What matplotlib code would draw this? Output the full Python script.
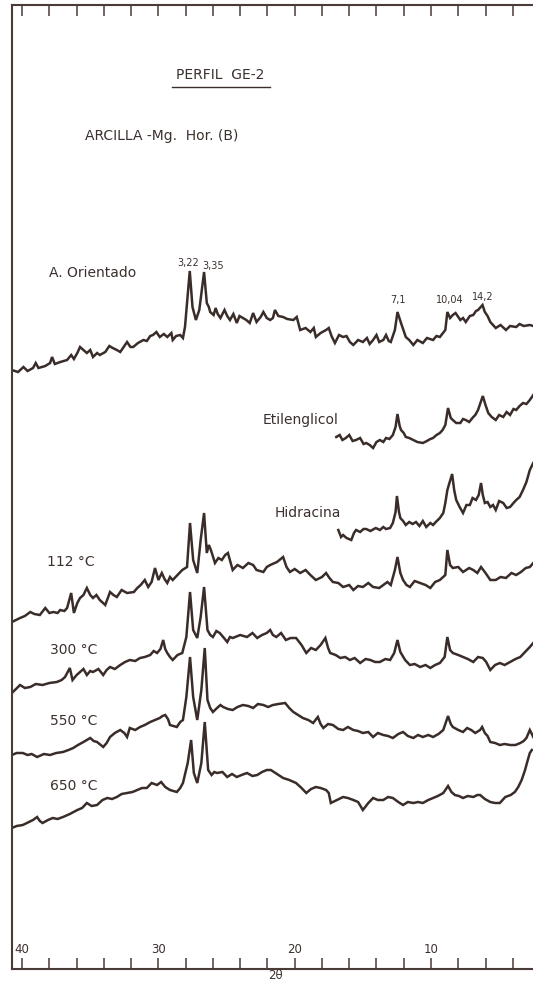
import matplotlib
matplotlib.use("Agg")
import matplotlib.pyplot as plt
from matplotlib.ticker import FixedLocator

# ---- diffractogram data (2θ in degrees, intensity in arbitrary units) ----
ori_2t = [40.75, 40.3, 39.9, 39.6, 39.2, 39.0, 38.8, 38.3, 37.95, 37.8, 37.6, 37.2, 36.7,
          36.4, 36.2, 35.95, 35.75, 35.5, 35.25, 35.0, 34.8, 34.5, 34.3, 33.9, 33.6, 33.35,
          33.05, 32.8, 32.55, 32.3, 32.05, 31.85, 31.5, 31.1, 30.85, 30.6, 30.4, 30.15, 29.9,
          29.6, 29.35, 29.05, 28.95, 28.7, 28.4, 28.2, 28.05, 27.7, 27.5, 27.25, 27.0, 26.65,
          26.45, 26.3, 26.2, 25.95, 25.8, 25.65, 25.45, 25.15, 24.95, 24.75, 24.5, 24.25,
          24.05, 23.8, 23.55, 23.3, 23.05, 22.8, 22.5, 22.3, 22.05, 21.8, 21.6, 21.45, 21.2,
          20.85, 20.55, 20.1, 19.85, 19.6, 19.2, 18.85, 18.6, 18.45, 18.1, 17.7, 17.5, 17.3,
          17.05, 16.75, 16.45, 16.2, 15.95, 15.7, 15.35, 15.0, 14.7, 14.5, 14.25, 14.0, 13.8,
          13.5, 13.3, 13.1, 12.95, 12.65, 12.46, 12.2, 11.85, 11.6, 11.3, 11.0, 10.6, 10.3,
          9.85, 9.6, 9.35, 8.95, 8.8, 8.6, 8.4, 8.2, 7.85, 7.65, 7.45, 7.15, 6.9, 6.7, 6.55,
          6.22, 6.05, 5.85, 5.65, 5.45, 5.25, 4.9, 4.5, 4.2, 3.75, 3.5, 3.2, 2.75, 2.5]
ori_i = [10, 8, 13, 9, 12, 17, 12, 14, 17, 23, 16, 18, 20,
         25, 21, 27, 33, 30, 27, 30, 23, 27, 25, 28, 34, 32,
         30, 28, 33, 38, 33, 33, 37, 40, 39, 44, 45, 48, 43,
         46, 43, 47, 40, 44, 45, 42, 53, 109, 73, 60, 70, 108,
         77, 73, 68, 65, 72, 66, 62, 70, 64, 60, 66, 57,
         64, 62, 60, 57, 67, 58, 63, 68, 62, 60, 62, 70, 64,
         63, 61, 60, 63, 50, 52, 48, 52, 43, 47, 50, 52, 44,
         37, 45, 43, 44, 38, 35, 40, 38, 42, 36, 40, 45, 38,
         40, 45, 39, 38, 50, 68, 57, 43, 40, 35, 40, 37, 42,
         40, 44, 43, 50, 68, 62, 65, 67, 60, 62, 58, 64, 65, 69, 70,
         75, 68, 64, 58, 55, 52, 55, 50, 54, 53, 56, 54, 55, 54]

eti_2t = [16.95, 16.7, 16.5, 16.25, 16.0, 15.75, 15.5, 15.2, 14.95, 14.75, 14.5, 14.25,
          14.0, 13.75, 13.5, 13.3, 13.05, 12.8, 12.6, 12.46, 12.3, 12.2, 12.0, 11.85, 11.6,
          11.3, 11.0, 10.6, 10.3, 10.05, 9.85, 9.6, 9.35, 9.15, 8.95, 8.75, 8.55, 8.4, 8.15,
          7.85, 7.65, 7.45, 7.2, 6.9, 6.75, 6.55, 6.2, 6.0, 5.8, 5.55, 5.25, 5.0, 4.7, 4.45,
          4.2, 3.95, 3.75, 3.5, 3.25, 3.0, 2.75, 2.5]
eti_i = [13, 15, 10, 12, 15, 9, 10, 12, 6, 7, 5, 2,
         8, 10, 8, 12, 11, 15, 23, 36, 24, 20, 17, 13, 12,
         10, 8, 7, 9, 11, 12, 15, 17, 20, 25, 42, 32, 30, 27,
         27, 31, 30, 28, 33, 35, 40, 54, 45, 37, 33, 30, 35, 33, 38,
         35, 41, 40, 44, 47, 46, 50, 55]

hid_2t = [16.8, 16.6, 16.45, 16.2, 15.85, 15.65, 15.5, 15.2, 14.95, 14.75, 14.45, 14.05,
          13.75, 13.5, 13.3, 13.0, 12.8, 12.6, 12.5, 12.35, 12.25, 12.05, 11.85, 11.6, 11.35,
          11.1, 10.85, 10.6, 10.35, 10.05, 9.85, 9.65, 9.35, 9.1, 8.95, 8.8, 8.65, 8.45, 8.3,
          8.15, 7.9, 7.65, 7.4, 7.15, 6.95, 6.7, 6.5, 6.33, 6.2, 6.05, 5.85, 5.65, 5.45, 5.25,
          5.0, 4.7, 4.45, 4.2, 3.95, 3.75, 3.5, 3.25, 3.0, 2.75, 2.5]
hid_i = [15, 8, 10, 7, 5, 12, 15, 13, 16, 16, 14, 17,
         15, 18, 16, 17, 22, 33, 49, 33, 27, 24, 20, 23, 21,
         23, 19, 24, 18, 22, 20, 23, 27, 32, 42, 55, 62, 71, 55,
         45, 38, 32, 40, 40, 47, 45, 50, 62, 50, 42, 43, 38, 40, 35,
         44, 42, 37, 38, 42, 45, 48, 55, 63, 75, 82]

t112_2t = [40.75, 40.45, 40.15, 39.8, 39.4, 39.1, 38.7, 38.3, 38.0, 37.7, 37.4, 37.2, 36.9,
           36.7, 36.4, 36.2, 35.95, 35.75, 35.5, 35.25, 35.0, 34.8, 34.55, 34.3, 33.9, 33.55,
           33.3, 33.05, 32.7, 32.3, 31.8, 31.55, 31.3, 31.0, 30.75, 30.5, 30.25, 30.0, 29.75,
           29.55, 29.35, 29.15, 28.95, 28.6, 28.25, 27.9, 27.68, 27.45, 27.15, 26.9, 26.65,
           26.45, 26.3, 26.15, 25.85, 25.6, 25.35, 25.1, 24.9, 24.55, 24.2, 23.8, 23.4, 23.05,
           22.8, 22.3, 22.05, 21.8, 21.3, 20.85, 20.6, 20.35, 20.0, 19.6, 19.2, 18.85, 18.45,
           18.0, 17.7, 17.45, 17.2, 16.8, 16.45, 16.0, 15.7, 15.35, 15.0, 14.6, 14.25, 13.8,
           13.5, 13.2, 12.95, 12.65, 12.46, 12.25, 12.05, 11.8, 11.55, 11.2, 10.8, 10.4, 10.05,
           9.7, 9.35, 8.95, 8.8, 8.6, 8.4, 8.0, 7.65, 7.2, 6.9, 6.6, 6.33, 6.0, 5.65, 5.25,
           4.9, 4.5, 4.1, 3.75, 3.4, 3.05, 2.75, 2.5]
t112_i = [3, 5, 7, 9, 13, 11, 10, 17, 12, 13, 12, 15, 14,
          17, 32, 12, 22, 27, 30, 37, 30, 27, 30, 25, 20, 33,
          30, 28, 35, 32, 33, 37, 40, 45, 38, 43, 57, 45, 52,
          46, 42, 48, 45, 50, 55, 58, 102, 65, 52, 85, 112,
          72, 80, 75, 62, 67, 65, 70, 72, 55, 60, 57, 62, 60,
          55, 53, 58, 60, 63, 68, 58, 53, 56, 52, 55, 50, 45,
          48, 52, 47, 43, 42, 38, 40, 35, 39, 38, 42, 38, 37,
          40, 43, 40, 55, 68, 52, 45, 40, 38, 44, 42, 40, 37,
          43, 45, 50, 75, 60, 57, 58, 53, 57, 55, 52, 58, 52, 45, 45,
          48, 47, 52, 50, 53, 57, 58, 62]

t300_2t = [40.75, 40.45, 40.15, 39.8, 39.4, 39.0, 38.5, 38.0, 37.45, 37.1, 36.85, 36.5,
           36.3, 36.0, 35.75, 35.5, 35.25, 35.0, 34.8, 34.4, 34.05, 33.8, 33.55, 33.2, 32.8,
           32.45, 32.1, 31.7, 31.35, 31.0, 30.6, 30.35, 30.1, 29.85, 29.65, 29.5, 29.35,
           29.15, 28.95, 28.6, 28.25, 27.95, 27.68, 27.45, 27.15, 26.9, 26.65, 26.4, 26.2,
           26.0, 25.75, 25.5, 25.25, 24.95, 24.75, 24.55, 24.0, 23.5, 23.1, 22.75, 22.4,
           22.05, 21.8, 21.6, 21.35, 21.0, 20.65, 20.3, 19.9, 19.5, 19.15, 18.8, 18.45, 18.1,
           17.75, 17.55, 17.4, 17.0, 16.65, 16.3, 15.95, 15.6, 15.2, 14.8, 14.45, 14.1, 13.75,
           13.35, 13.0, 12.7, 12.46, 12.25, 11.9, 11.55, 11.2, 10.8, 10.4, 10.05, 9.7, 9.35,
           9.0, 8.8, 8.6, 8.4, 8.0, 7.65, 7.3, 6.9, 6.55, 6.2, 5.95, 5.65, 5.3, 4.95, 4.6,
           4.2, 3.8, 3.45, 3.1, 2.75, 2.5]
t300_i = [2, 6, 10, 7, 8, 11, 10, 12, 13, 15, 18, 27,
          15, 20, 23, 26, 20, 24, 23, 26, 20, 25, 28, 26, 30,
          33, 35, 34, 37, 38, 40, 44, 42, 46, 55, 46, 42,
          38, 35, 40, 42, 58, 103, 65, 57, 78, 108, 65, 60,
          58, 64, 62, 58, 53, 58, 57, 60, 58, 62, 57, 60,
          62, 65, 60, 58, 62, 55, 57, 57, 50, 42, 47, 45, 50,
          57, 47, 42, 40, 37, 38, 35, 37, 32, 36, 35, 33, 33,
          36, 35, 42, 55, 43, 35, 30, 31, 28, 30, 27, 30, 32,
          38, 58, 45, 42, 40, 38, 36, 33, 38, 37, 33, 25, 30, 32, 30,
          33, 36, 38, 43, 48, 52]

t550_2t = [40.75, 40.4, 39.95, 39.6, 39.3, 38.9, 38.4, 37.95, 37.5, 37.0, 36.6, 36.25,
           35.9, 35.5, 35.25, 35.0, 34.75, 34.5, 34.05, 33.8, 33.55, 33.2, 32.8, 32.5, 32.3,
           32.1, 31.7, 31.35, 31.0, 30.6, 30.25, 29.9, 29.7, 29.5, 29.3, 29.15, 28.9, 28.65,
           28.4, 28.2, 27.95, 27.68, 27.45, 27.15, 26.85, 26.6, 26.4, 26.2, 26.0, 25.7, 25.45,
           25.25, 24.9, 24.55, 24.2, 23.8, 23.4, 23.05, 22.7, 22.3, 21.95, 21.6, 21.2, 20.7,
           20.4, 20.1, 19.75, 19.4, 19.0, 18.65, 18.3, 18.1, 17.9, 17.55, 17.2, 16.8, 16.45,
           16.1, 15.7, 15.35, 15.0, 14.6, 14.25, 13.9, 13.5, 13.15, 12.8, 12.4, 12.05, 11.7,
           11.3, 10.95, 10.6, 10.2, 9.85, 9.45, 9.1, 8.75, 8.55, 8.4, 8.0, 7.65, 7.35, 7.05,
           6.75, 6.4, 6.25, 6.05, 5.85, 5.65, 5.3, 4.95, 4.6, 4.2, 3.8, 3.45, 3.2, 3.0, 2.75,
           2.6, 2.5]
t550_i = [5, 7, 7, 5, 6, 3, 6, 5, 7, 8, 10, 12,
          15, 18, 20, 22, 19, 18, 13, 17, 23, 27, 30, 27, 23,
          32, 30, 33, 35, 38, 40, 42, 44, 45, 41, 35, 34, 33,
          38, 40, 63, 103, 63, 40, 70, 112, 60, 52, 48, 52, 55,
          53, 51, 50, 53, 55, 54, 52, 56, 55, 53, 55, 56, 57,
          52, 48, 45, 42, 40, 37, 43, 36, 32, 36, 35, 31, 30,
          33, 30, 29, 27, 28, 23, 27, 25, 24, 22, 26, 28, 24,
          22, 25, 23, 25, 23, 26, 30, 44, 36, 33, 30, 28, 32, 30,
          27, 30, 33, 27, 24, 18, 17, 15, 16, 15, 15, 17, 19, 22, 30,
          26, 23]

t650_2t = [40.75, 40.4, 39.95, 39.5, 39.2, 38.9, 38.7, 38.5, 38.1, 37.75, 37.4, 37.0,
           36.5, 35.95, 35.6, 35.25, 34.9, 34.5, 34.1, 33.75, 33.4, 33.05, 32.7, 32.3, 31.9,
           31.55, 31.2, 30.85, 30.5, 30.1, 29.8, 29.5, 29.15, 28.9, 28.65, 28.4, 28.2, 27.85,
           27.6, 27.4, 27.15, 26.85, 26.6, 26.35, 26.1, 25.9, 25.7, 25.3, 24.95, 24.6, 24.25,
           23.9, 23.5, 23.1, 22.75, 22.4, 22.05, 21.75, 21.3, 20.85, 20.4, 19.9, 19.5, 19.15,
           18.8, 18.45, 18.1, 17.7, 17.5, 17.35, 16.9, 16.45, 16.1, 15.7, 15.35, 15.0, 14.6,
           14.25, 13.9, 13.5, 13.15, 12.8, 12.4, 12.05, 11.7, 11.3, 10.95, 10.6, 10.2, 9.85,
           9.5, 9.1, 8.75, 8.5, 8.25, 7.95, 7.65, 7.3, 6.9, 6.6, 6.4, 6.05, 5.65, 5.3, 4.95,
           4.75, 4.55, 4.15, 3.85, 3.6, 3.35, 3.1, 2.9, 2.75, 2.6]
t650_i = [2, 4, 5, 8, 10, 13, 9, 7, 10, 12, 11, 13,
          16, 20, 22, 27, 24, 25, 30, 32, 31, 33, 36, 37, 38,
          40, 42, 42, 47, 45, 48, 43, 40, 39, 38, 42, 47, 67,
          90, 57, 47, 67, 108, 60, 55, 58, 57, 58, 53, 56, 53,
          55, 57, 54, 55, 58, 60, 60, 56, 52, 50, 47, 42, 37,
          41, 43, 42, 40, 37, 27, 30, 33, 32, 30, 28, 20, 27,
          32, 30, 30, 33, 32, 28, 25, 28, 27, 28, 27, 30, 32,
          34, 37, 44, 38, 35, 34, 32, 34, 33, 35, 35, 31, 28, 27, 27,
          30, 33, 35, 38, 43, 50, 60, 70, 77, 80]

# vertical stacking of the patterns
offsets = {"ori": 589, "eti": 519, "hid": 424, "t112": 344,
           "t300": 274, "t550": 209, "t650": 139}

x_ticks = list(range(40, 3, -2))
x_labels = [40, 30, 20, 10]
peak_labels = [("3,22", 27.79, 706), ("3,35", 26.0, 703.5),
               ("7,1", 12.42, 669), ("10,04", 8.64, 669), ("14,2", 6.22, 672)]

ink = "#3a2d29"
txt = "#3b302d"

fig = plt.figure(figsize=(5.33, 9.88), dpi=100)
ax = fig.add_axes([12.2 / 533, 19 / 988, 520.8 / 533, 964 / 988])
ax.set_xlim(40.727, 2.517)
ax.set_ylim(0, 964)

series = [(ori_2t, ori_i, "ori"), (eti_2t, eti_i, "eti"), (hid_2t, hid_i, "hid"),
          (t112_2t, t112_i, "t112"), (t300_2t, t300_i, "t300"),
          (t550_2t, t550_i, "t550"), (t650_2t, t650_i, "t650")]
for xs, ys, key in series:
    ax.plot(xs, [v + offsets[key] for v in ys], color=ink, lw=1.8,
            solid_joinstyle="miter", clip_on=True)

# frame: left, top and bottom only
for side in ("left", "top", "bottom"):
    ax.spines[side].set_color("#4a3b36")
    ax.spines[side].set_linewidth(1.5)
ax.spines["right"].set_visible(False)

ax.xaxis.set_major_locator(FixedLocator(x_ticks))
ax.tick_params(axis="x", which="both", direction="in", length=8, width=1.1,
               color="#4a3b36", top=True, bottom=True, labelbottom=False)
ax.set_yticks([])

for v in x_labels:
    ax.text(v, 20, str(v), ha="center", va="center", fontsize=8.5, color=txt)
fig.text(275 / 533, 1 - 975 / 988, "2θ", ha="center", va="center", fontsize=8.5, color=txt)

# headings
ax.text(25.48, 894, "PERFIL  GE-2", ha="center", va="center", fontsize=10, color=txt)
ax.plot([29.0, 21.8], [882, 882], color=txt, lw=1.0)
ax.text(29.73, 833, "ARCILLA -Mg.  Hor. (B)", ha="center", va="center", fontsize=10, color=txt)

# pattern labels
ax.text(38.02, 696, "A. Orientado", ha="left", va="center", fontsize=10, color=txt)
ax.text(22.32, 549, "Etilenglicol", ha="left", va="center", fontsize=10, color=txt)
ax.text(21.44, 456, "Hidracina", ha="left", va="center", fontsize=10, color=txt)
ax.text(38.17, 407, "112 °C", ha="left", va="center", fontsize=10, color=txt)
ax.text(37.95, 319, "300 °C", ha="left", va="center", fontsize=10, color=txt)
ax.text(37.95, 248, "550 °C", ha="left", va="center", fontsize=10, color=txt)
ax.text(37.95, 183, "650 °C", ha="left", va="center", fontsize=10, color=txt)

for s, xv, yv in peak_labels:
    ax.text(xv, yv, s, ha="center", va="center", fontsize=7, color=txt)

fig.savefig("out.png", dpi=100, facecolor="white")
